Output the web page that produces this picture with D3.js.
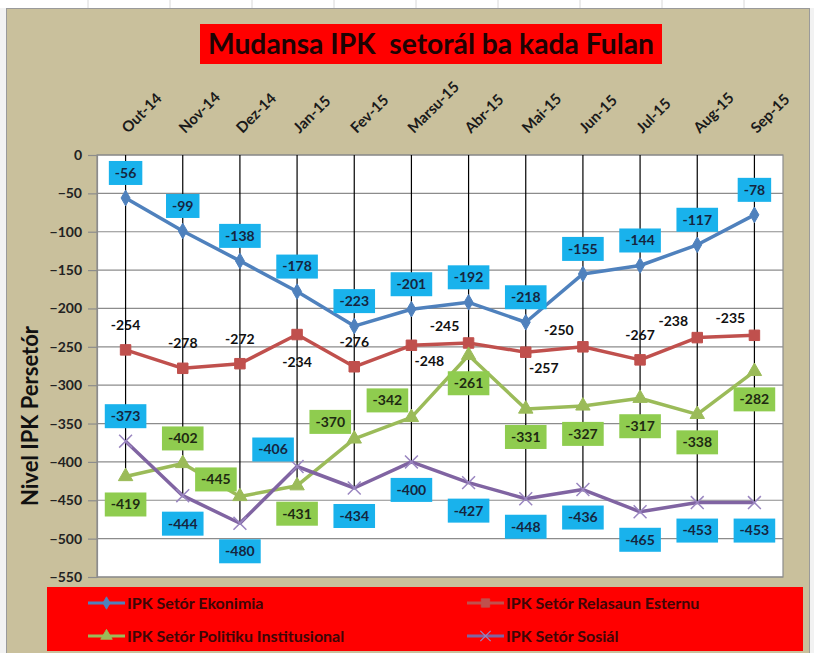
<!DOCTYPE html>
<html>
<head>
<meta charset="utf-8">
<script src="https://cdn.jsdelivr.net/npm/d3@7"></script>
<style>
  html, body { margin: 0; padding: 0; background: #f2f2f2; }
  svg { display: block; }
  text { font-family: Lato, "Open Sans", sans-serif; font-weight: bold; }
</style>
</head>
<body>
<svg id="chart" width="814" height="653"></svg>
<script>
// ---------------- data ----------------
const categories = ["Out-14","Nov-14","Dez-14","Jan-15","Fev-15","Marsu-15","Abr-15","Mai-15","Jun-15","Jul-15","Aug-15","Sep-15"];
const ekonomia   = [-56, -99, -138, -178, -223, -201, -192, -218, -155, -144, -117, -78];
const relasaun   = [-254, -278, -272, -234, -276, -248, -245, -257, -250, -267, -238, -235];
const politiku   = [-419, -402, -445, -431, -370, -342, -261, -331, -327, -317, -338, -282];
const sosial     = [-373, -444, -480, -406, -434, -400, -427, -448, -436, -465, -453, -453];
const seriesNames = ["IPK Setór Ekonimia", "IPK Setór Relasaun Esternu", "IPK Setór Politiku Institusional", "IPK Setór Sosiál"];
const yTicks = [0, -50, -100, -150, -200, -250, -300, -350, -400, -450, -500, -550];
const titleText = "Mudansa IPK  setorál ba kada Fulan";
const yTitle = "Nivel IPK Persetór";

// label placement codes (layout only)
const ekoPos = ["t","t","t","t","t","t","t","t","t","t","t","t"];
const relPos = ["t","t","t","b","t","br","tl","br","tl","t","tl","tl"];
const polPos = ["b","t","tl","b","tl","tl","b","b","b","b","b","b"];
const sosPos = ["t","b","b","tl","b","b","b","b","b","b","b","b"];

// ---------------- layout ----------------
const svg = d3.select("#chart");
const W = 814, H = 653;
const plot = { left: 97, right: 783, top: 155, bottom: 577 };
const TAN = "#c9c09c";

const x = d3.scalePoint().domain(categories).range([plot.left, plot.right]).padding(0.5);
const y = d3.scaleLinear().domain([-550, 0]).range([plot.bottom, plot.top]);

const series = [
  { name: seriesNames[0], values: ekonomia, color: "#4f81bd", marker: "diamond", pos: ekoPos, box: "#19b2ec", txt: "#15263f" },
  { name: seriesNames[1], values: relasaun, color: "#c0504d", marker: "square",  pos: relPos, box: null,      txt: "#111" },
  { name: seriesNames[2], values: politiku, color: "#9bbb59", marker: "triangle", pos: polPos, box: "#8fcc4f", txt: "#1e2a12" },
  { name: seriesNames[3], values: sosial,   color: "#8064a2", marker: "times",   pos: sosPos, box: "#19b2ec", txt: "#15263f" }
];

// background frame
svg.append("rect").attr("x", 0).attr("y", 0).attr("width", W).attr("height", 8).attr("fill", "#ffffff");
svg.append("g").selectAll("line").data(d3.range(88, W, 82)).join("line")
  .attr("x1", d => d).attr("x2", d => d).attr("y1", 0).attr("y2", 8)
  .attr("stroke", "#d8d8d8").attr("stroke-width", 1);
svg.append("rect").attr("x", 6.5).attr("y", 8.5).attr("width", 803).attr("height", 650)
  .attr("fill", TAN).attr("stroke", "#9a9a9a").attr("stroke-width", 1);

// title
const titleG = svg.append("g");
titleG.append("rect").attr("x", 200).attr("y", 24).attr("width", 462).attr("height", 40).attr("fill", "#ff0000");
titleG.append("text").attr("x", 431).attr("y", 54).attr("text-anchor", "middle")
  .attr("font-size", 28).attr("fill", "#1e0303")
  .attr("textLength", 446).attr("lengthAdjust", "spacingAndGlyphs")
  .style("white-space", "pre").text(titleText);

// plot area
svg.append("rect").attr("x", plot.left).attr("y", plot.top)
  .attr("width", plot.right - plot.left).attr("height", plot.bottom - plot.top)
  .attr("fill", "#ffffff");

// gridlines
svg.append("g").selectAll("line").data(yTicks).join("line")
  .attr("x1", plot.left).attr("x2", plot.right)
  .attr("y1", d => y(d)).attr("y2", d => y(d))
  .attr("stroke", "#8c8c8c").attr("stroke-width", 1.2);

// plot border
svg.append("rect").attr("x", plot.left).attr("y", plot.top)
  .attr("width", plot.right - plot.left).attr("height", plot.bottom - plot.top)
  .attr("fill", "none").attr("stroke", "#8c8c8c").attr("stroke-width", 1.2);

// y axis
const yAxis = svg.append("g").attr("transform", `translate(${plot.left},0)`)
  .call(d3.axisLeft(y).tickValues(yTicks).tickSize(9).tickPadding(6));
yAxis.select(".domain").attr("stroke", "#8c8c8c").attr("stroke-width", 1.2);
yAxis.selectAll(".tick line").attr("stroke", "#8c8c8c").attr("stroke-width", 1.2);
yAxis.selectAll(".tick text").attr("font-size", 14).attr("fill", "#222")
  .attr("font-family", "Lato, sans-serif").attr("font-weight", "bold");

// y title
svg.append("text").attr("transform", `translate(38,416) rotate(-90)`)
  .attr("text-anchor", "middle").attr("font-size", 22).attr("fill", "#111").text(yTitle);

// x axis on top
const xAxis = svg.append("g").attr("transform", `translate(0,${plot.top})`)
  .call(d3.axisTop(x).tickSize(0).tickPadding(0));
xAxis.select(".domain").remove();
xAxis.selectAll(".tick text")
  .attr("x", 0).attr("y", 0).attr("dy", 0)
  .attr("transform", "translate(2,-21) rotate(-45)")
  .attr("text-anchor", "start")
  .attr("font-size", 15).attr("fill", "#1a1a1a")
  .attr("font-family", "Lato, sans-serif").attr("font-weight", "bold");

// drop lines: from axis (0) to lowest point of each category
const mins = categories.map((c, i) => d3.min(series, s => s.values[i]));
svg.append("g").selectAll("line").data(categories).join("line")
  .attr("x1", d => x(d)).attr("x2", d => x(d))
  .attr("y1", y(0)).attr("y2", (d, i) => y(mins[i]))
  .attr("stroke", "#000").attr("stroke-width", 1.2);

// lines
const lineGen = d3.line().x((d, i) => x(categories[i])).y(d => y(d));
svg.append("g").selectAll("path").data(series).join("path")
  .attr("d", s => lineGen(s.values))
  .attr("fill", "none").attr("stroke", s => s.color).attr("stroke-width", 3.5)
  .attr("stroke-linejoin", "round");

// markers
const symMap = {
  diamond: d3.symbol().type(d3.symbolDiamond).size(70),
  square: d3.symbol().type(d3.symbolSquare).size(110),
  triangle: d3.symbol().type(d3.symbolTriangle).size(90),
  times: d3.symbol().type(d3.symbolTimes).size(110)
};
function drawMarker(g, s, cx, cy, scale) {
  const p = g.append("path").attr("d", symMap[s.marker]())
    .attr("transform", `translate(${cx},${cy}) scale(${scale || 1})`);
  if (s.marker === "times") {
    p.attr("fill", "none").attr("stroke", "#9a86c0").attr("stroke-width", 1.5);
  } else {
    p.attr("fill", s.color).attr("stroke", s.color).attr("stroke-width", 1);
  }
}
const markG = svg.append("g");
series.forEach(s => {
  s.values.forEach((v, i) => drawMarker(markG, s, x(categories[i]), y(v)));
});

// data labels
const offs = { t: [0, -25], b: [0, 28], tl: [-24, -17], br: [18, 16] };
const labG = svg.append("g");
series.forEach(s => {
  s.values.forEach((v, i) => {
    const o = offs[s.pos[i]];
    const cx = x(categories[i]) + o[0];
    const cy = y(v) + o[1];
    const g = labG.append("g");
    const t = g.append("text").attr("x", cx).attr("y", cy).attr("dy", "0.35em")
      .attr("text-anchor", "middle").attr("font-size", 14).attr("fill", s.txt).text(v);
    if (s.box) {
      const w = t.node().getComputedTextLength() + 12;
      g.insert("rect", "text").attr("x", cx - w / 2).attr("y", cy - 12)
        .attr("width", w).attr("height", 24).attr("fill", s.box);
    }
  });
});

// legend
const legG = svg.append("g");
legG.append("rect").attr("x", 47).attr("y", 587).attr("width", 756).attr("height", 64).attr("fill", "#ff0000");
const legPos = [[88, 603], [467, 603], [88, 636], [467, 636]];
[0, 1, 2, 3].forEach((si, k) => {
  const s = series[si];
  const [lx, ly] = legPos[k];
  legG.append("line").attr("x1", lx).attr("x2", lx + 37).attr("y1", ly).attr("y2", ly)
    .attr("stroke", s.color).attr("stroke-width", 3);
  drawMarker(legG, s, lx + 18.5, ly, 0.8);
  legG.append("text").attr("x", lx + 39).attr("y", ly).attr("dy", "0.35em")
    .attr("font-size", 16).attr("fill", "#3d0606").text(s.name);
});
</script>
</body>
</html>
